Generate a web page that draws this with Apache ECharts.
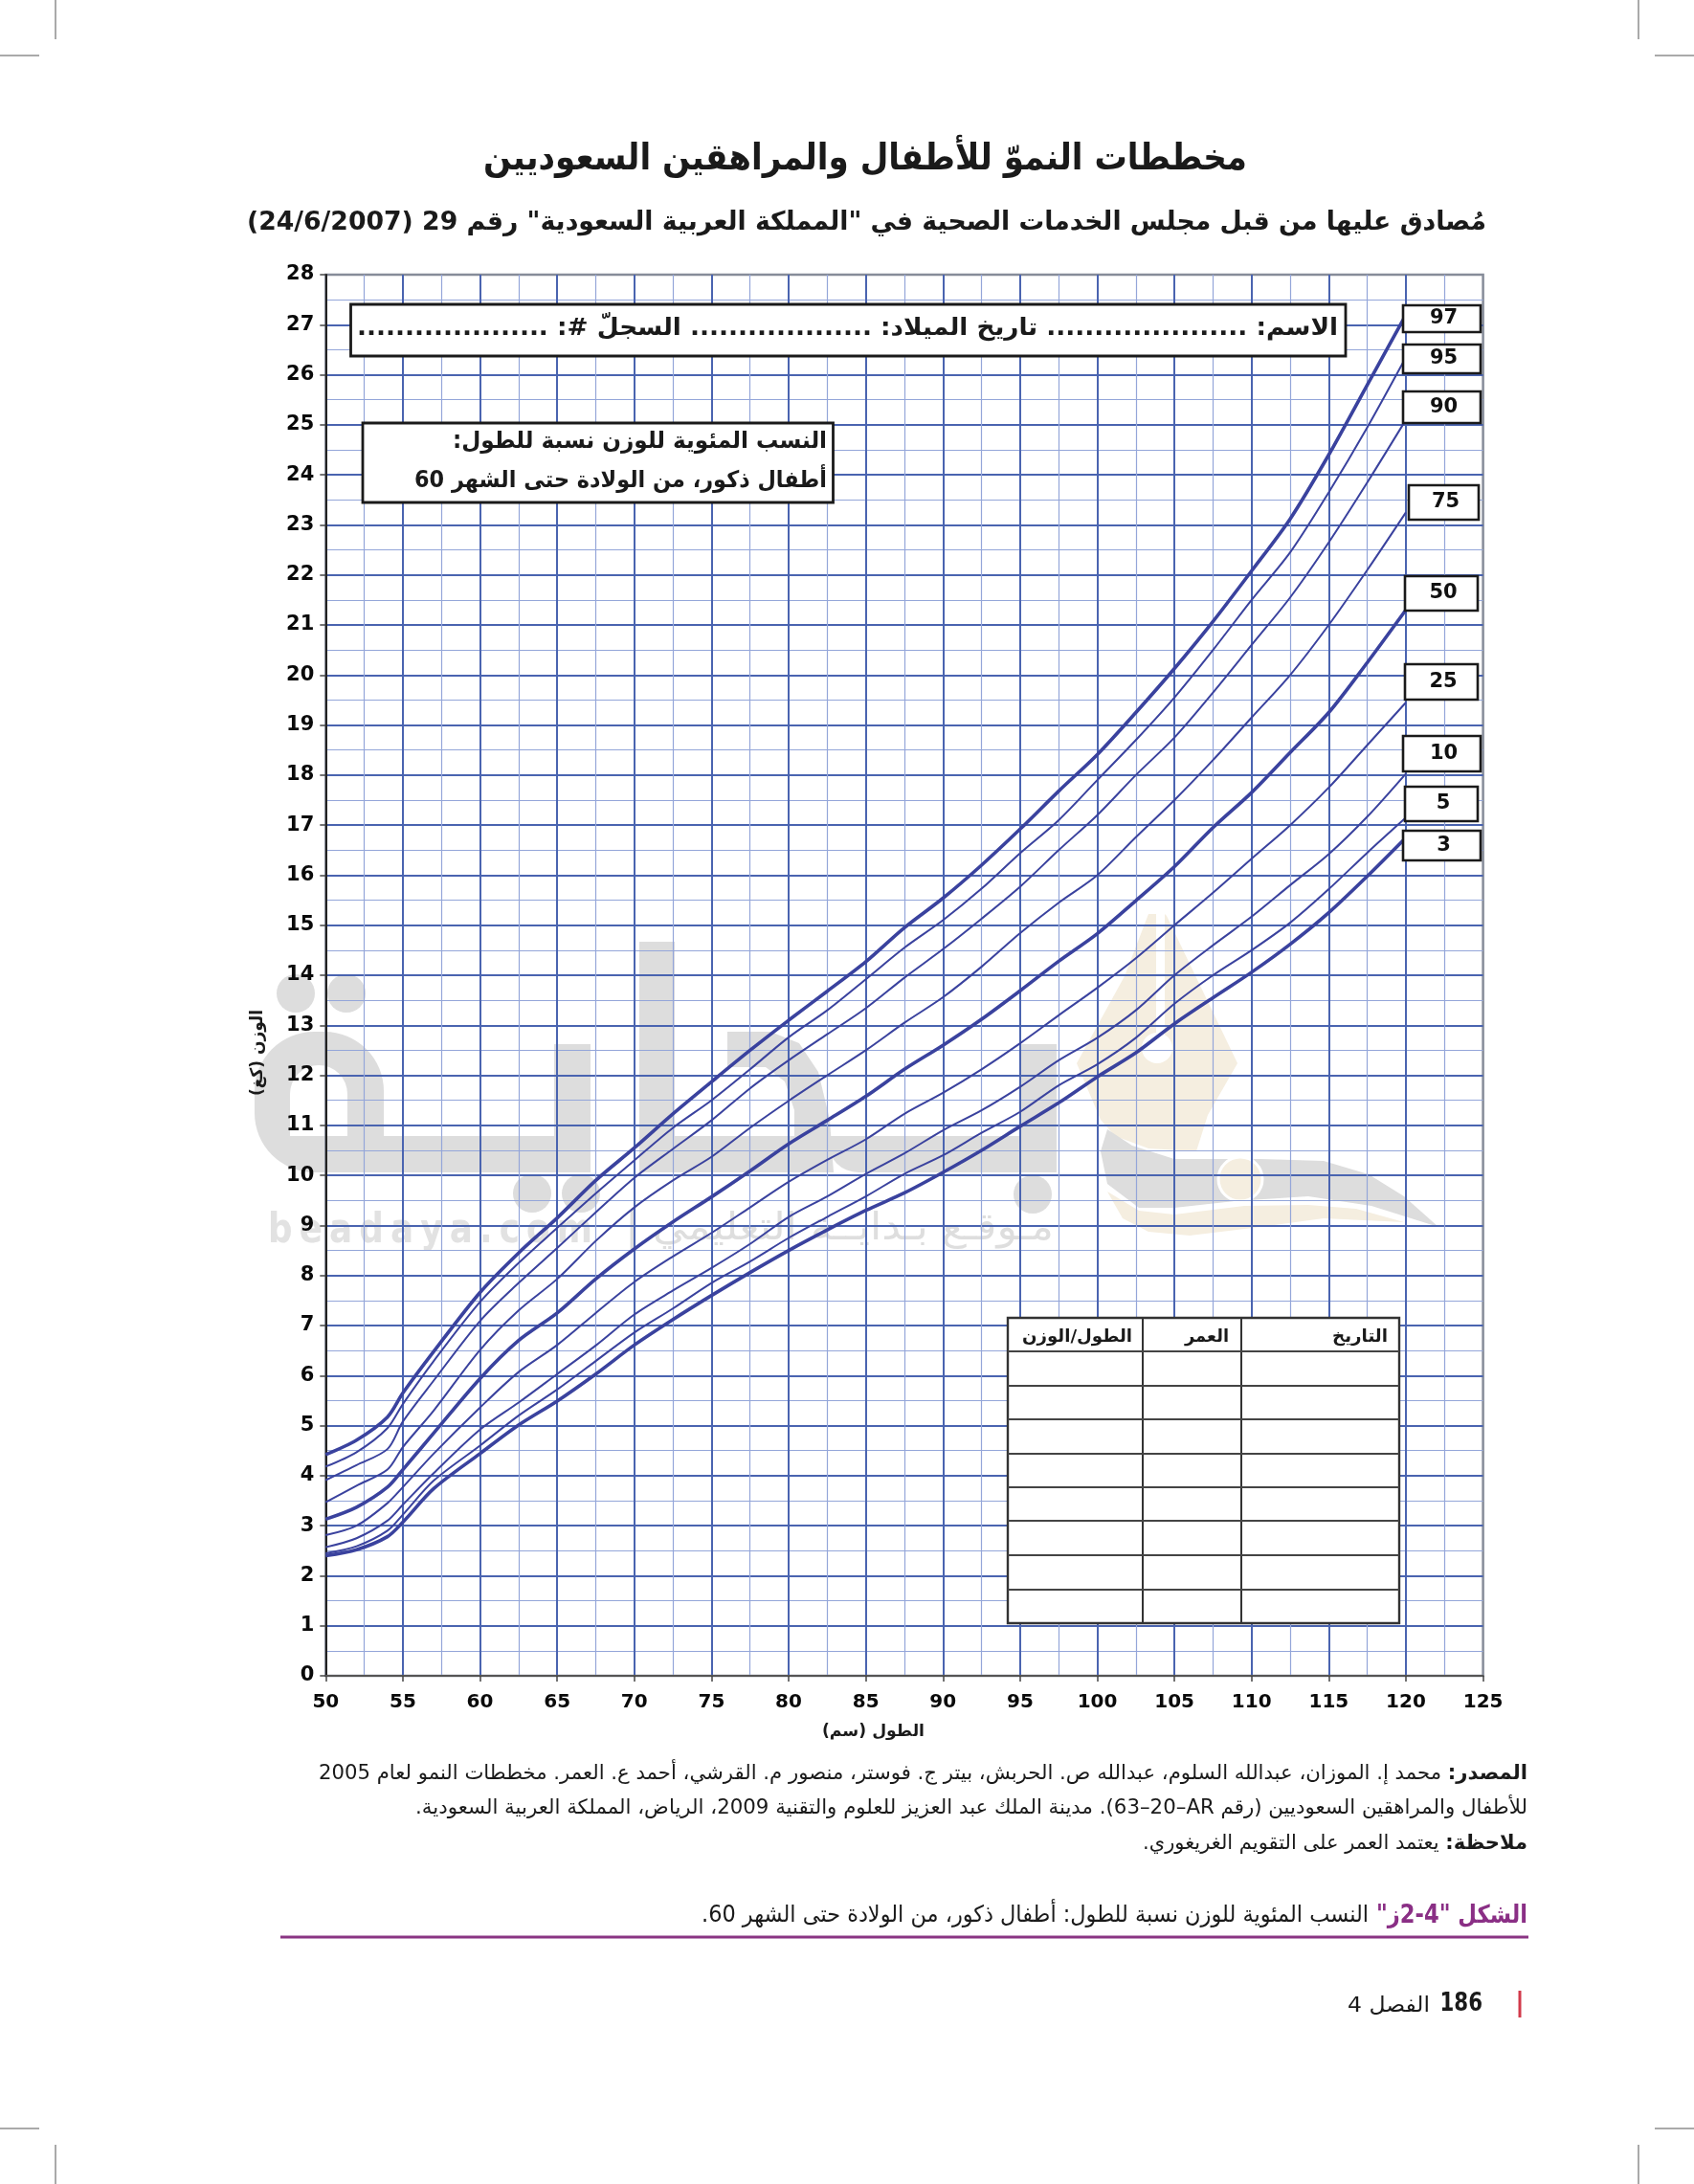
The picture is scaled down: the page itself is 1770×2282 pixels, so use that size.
<!DOCTYPE html>
<html lang="ar">
<head>
<meta charset="utf-8">
<style>
html,body{margin:0;padding:0;background:#fff}
#chart{width:1770px;height:2282px;direction:rtl}
</style>
<script src="https://cdn.jsdelivr.net/npm/echarts@6/dist/echarts.min.js"></script>
</head>
<body>
<div id="chart"></div>
<script>
// ---- data ----
const lengths = [50,52,54,55,57,60,62.5,65,67.5,70,72.5,75,77.5,80,82.5,85,87.5,90,92.5,95,97.5,100,102.5,105,107.5,110,112.5,115,117.5,120];
const p97 = [4.42,4.71,5.17,5.65,6.48,7.66,8.45,9.15,9.9,10.55,11.23,11.87,12.5,13.1,13.68,14.27,14.95,15.54,16.2,16.92,17.68,18.41,19.25,20.13,21.07,22.08,23.12,24.4,25.8,27.2];
const p95 = [4.18,4.47,4.95,5.43,6.29,7.47,8.25,8.95,9.64,10.3,10.95,11.5,12.12,12.76,13.3,13.92,14.55,15.1,15.73,16.44,17.1,17.9,18.7,19.55,20.5,21.5,22.45,23.65,24.95,26.35];
const p90 = [3.91,4.21,4.53,5.08,5.9,7.09,7.85,8.55,9.26,9.95,10.53,11.1,11.74,12.3,12.82,13.34,13.95,14.52,15.13,15.77,16.5,17.2,18.0,18.75,19.65,20.6,21.55,22.65,23.85,25.1];
const p75 = [3.47,3.8,4.12,4.57,5.3,6.51,7.3,7.93,8.69,9.36,9.9,10.37,10.95,11.49,12.0,12.5,13.05,13.56,14.17,14.84,15.45,16.0,16.76,17.5,18.3,19.15,20.0,21.0,22.1,23.25];
const p50 = [3.13,3.37,3.77,4.12,4.85,5.94,6.7,7.25,7.93,8.53,9.07,9.57,10.09,10.63,11.1,11.58,12.12,12.6,13.12,13.69,14.28,14.83,15.49,16.17,16.95,17.65,18.45,19.25,20.25,21.3];
const p25 = [2.81,3.0,3.45,3.77,4.44,5.36,6.07,6.61,7.25,7.87,8.38,8.85,9.36,9.87,10.31,10.72,11.23,11.65,12.12,12.64,13.2,13.75,14.34,15.0,15.65,16.33,17.0,17.75,18.6,19.45];
const p10 = [2.57,2.75,3.1,3.42,4.05,4.92,5.46,6.03,6.6,7.22,7.7,8.15,8.63,9.17,9.58,10.03,10.44,10.9,11.3,11.77,12.3,12.75,13.3,14.0,14.6,15.17,15.8,16.42,17.17,18.03];
const p5  = [2.45,2.59,2.9,3.22,3.9,4.6,5.2,5.72,6.29,6.86,7.34,7.85,8.28,8.75,9.17,9.58,10.03,10.4,10.85,11.27,11.8,12.22,12.75,13.43,14.0,14.5,15.05,15.72,16.45,17.15];
const p3  = [2.40,2.52,2.78,3.07,3.74,4.44,5.01,5.49,6.03,6.61,7.12,7.6,8.06,8.5,8.91,9.3,9.65,10.06,10.5,10.98,11.45,11.97,12.45,13.03,13.55,14.06,14.62,15.25,15.98,16.75];
const curveNames = ['97','95','90','75','50','25','10','5','3'];
const curveValues = [p97,p95,p90,p75,p50,p25,p10,p5,p3];
const thickCurves = ['97','50','3'];

const titleText = 'مخططات النموّ للأطفال والمراهقين السعوديين';
const subtitleText = 'مُصادق عليها من قبل مجلس الخدمات الصحية في "المملكة العربية السعودية" رقم 29 (24/6/2007)';
const nameLine = 'الاسم: ..................... تاريخ الميلاد: ................... السجلّ #: ....................';
const boxLine1 = 'النسب المئوية للوزن نسبة للطول:';
const boxLine2 = 'أطفال ذكور، من الولادة حتى الشهر 60';
const xName = 'الطول (سم)';
const yName = 'الوزن (كغ)';
const tableHead = ['التاريخ','العمر','الطول/الوزن'];
const srcBold = 'المصدر:';
const src1 = ' محمد إ. الموزان، عبدالله السلوم، عبدالله ص. الحربش، بيتر ج. فوستر، منصور م. القرشي، أحمد ع. العمر. مخططات النمو لعام 2005';
const src2 = 'للأطفال والمراهقين السعوديين (رقم AR\u200f–20\u200f–63). مدينة الملك عبد العزيز للعلوم والتقنية 2009، الرياض، المملكة العربية السعودية.';
const noteBold = 'ملاحظة:';
const note = ' يعتمد العمر على التقويم الغريغوري.';
const capBold = 'الشكل "4-2ز"';
const cap = 'النسب المئوية للوزن نسبة للطول: أطفال ذكور، من الولادة حتى الشهر 60.';

// ---- layout and style ----
const AR = '"DejaVu Sans"';
const G = {left:340.3,right:1549.6,top:287,bottom:1751};
const LINE = '#3a429e', MAJOR = '#4a64b0', MINOR = '#94a6d9';
const WM = '#dddddd', PEN = '#f5eee0';

const chart = echarts.init(document.getElementById('chart'), null, {renderer:'canvas'});
const mctx = document.createElement('canvas').getContext('2d');
document.body.appendChild(mctx.canvas); mctx.canvas.style.cssText='position:absolute;left:-9999px;direction:rtl';
function measure(t,font){mctx.font=font;return mctx.measureText(t).width;}

const g = [];
// right-to-left text line, fitted to a target width; segments = [{t,size,bold,color}]
function line(right,y,width,segs,z){
  const fonts = segs.map(s=>`${s.bold?'bold ':''}${s.size}px ${s.font||AR}`);
  const w = segs.map((s,i)=>measure(s.t,fonts[i]));
  const total = w.reduce((a,b)=>a+b,0);
  const sc = width/total;
  let x = right;
  segs.forEach((s,i)=>{
    g.push({type:'text',x:x,y:y,scaleX:sc,z:z==null?20:z,silent:true,
      style:{text:s.t,font:fonts[i],fill:s.color||'#1a1a1a',align:'right',verticalAlign:'middle'}});
    x -= w[i]*sc;
  });
}
function rect(x,y,w,h,fill,stroke,lw,z,r){
  g.push({type:'rect',z:z,silent:true,shape:{x,y,width:w,height:h,r:r||0},style:{fill:fill||'none',stroke:stroke||'none',lineWidth:lw||0}});
}
function seg(x1,y1,x2,y2,color,lw,z){
  g.push({type:'line',z:z,silent:true,shape:{x1,y1,x2,y2},style:{stroke:color,lineWidth:lw}});
}
function poly(points,fill,z){g.push({type:'polygon',z:z,silent:true,shape:{points},style:{fill}});}
function dot(cx,cy,r,fill,z,stroke,lw){g.push({type:'circle',z:z,silent:true,shape:{cx,cy,r},style:{fill,stroke:stroke||'none',lineWidth:lw||0}});}

// crop marks
[[58,0,58,41],[0,58,41,58],[1712,0,1712,41],[1729,58,1770,58],[58,2241,58,2282],[0,2224,41,2224],[1712,2241,1712,2282],[1729,2224,1770,2224]]
  .forEach(a=>seg(a[0],a[1],a[2],a[3],'#555',1,1));

// watermark (under the grid)
const zw=-10;
rect(266,1078,135,147,WM,null,0,zw,[62,62,0,62]);
rect(303,1113,60,74,'#fff',null,0,zw+1,[30,30,0,0]);
rect(330,1187,287,38,WM,null,0,zw);
rect(579,1091,38,134,WM,null,0,zw);
rect(668,984,37,241,WM,null,0,zw);
rect(668,1187,170,38,WM,null,0,zw);
poly([[760,1078],[805,1078],[835,1090],[855,1120],[867,1170],[871,1225],[815,1225],[815,1187],[830,1187],[830,1160],[820,1130],[800,1115],[760,1115]],WM,zw);
rect(865,1187,239,38,WM,null,0,zw,[0,0,0,32]);
rect(1067,1091,37,134,WM,null,0,zw);
dot(309,1038,20,WM,zw);dot(362,1038,20,WM,zw);dot(556,1247,20,WM,zw);dot(607,1247,20,WM,zw);dot(1079,1248,20,WM,zw);
line(619,1287,339,[{t:'b\u2009e\u2009a\u2009d\u2009a\u2009y\u2009a\u2009.\u2009c\u2009o\u2009m',size:42,bold:true,color:'#e2e2e2'}],zw);
line(1101,1285,448,[{t:'مـوقـع بـدايــة التعليمي |',size:40,color:'#dedede'}],zw);
// pen and swoosh
poly([[1200,955],[1208,955],[1208,1085],[1217,1085],[1217,955],[1219,957],[1293,1111],[1262,1165],[1250,1203],[1200,1200],[1165,1187],[1150,1170],[1125,1111],[1175,1020]],PEN,zw);
dot(1209,1095,16,'#fff',zw+1);
poly([[1157,1180],[1150,1203],[1157,1237],[1190,1262],[1227,1262],[1290,1255],[1367,1250],[1433,1260],[1503,1282],[1467,1250],[1430,1227],[1383,1213],[1317,1211],[1227,1211],[1183,1197]],WM,zw);
poly([[1157,1245],[1173,1273],[1200,1287],[1243,1291],[1317,1282],[1383,1273],[1467,1277],[1417,1263],[1367,1259],[1300,1260],[1227,1269],[1190,1265]],PEN,zw);
dot(1296,1232,23,PEN,zw+1,'#fff',3);

// headings
line(1303,167,798,[{t:titleText,size:38,bold:true}]);
line(1553,233,1295,[{t:subtitleText,size:27,bold:true}]);

// name box
rect(366.5,318,1039.5,54,'#fff','#1a1a1a',2.8,15);
line(1398,343,1025,[{t:nameLine,size:25,bold:true}]);
// description box
rect(379,442,491.5,83,'#fff','#1a1a1a',2.8,15);
line(864,462,391,[{t:boxLine1,size:24,bold:true}]);
line(864,503,431,[{t:boxLine2,size:24,bold:true}]);

// percentile boxes
const pctBoxes = {'97':[1466,319,81,28],'95':[1466,360,81,30],'90':[1466,409,81,33],'75':[1472,507,73,36],'50':[1468,602,76,36],'25':[1468,694,76,37],'10':[1466,769,81,37],'5':[1468,822,76,36],'3':[1466,868,81,31]};
curveNames.forEach(n=>{
  const b=pctBoxes[n];
  rect(b[0],b[1],b[2],b[3],'#fff','#1a1a1a',2.6,15);
  g.push({type:'text',z:20,silent:true,x:b[0]+b[2]/2+2,y:b[1]+b[3]/2,style:{text:n,font:`bold 21px ${AR}`,fill:'#111',align:'center',verticalAlign:'middle'}});
});

// table
const T={l:1053,r:1462,t:1377,b:1696,cols:[1194,1297],rows:[1412,1448,1483,1519,1554,1589,1625,1661]};
rect(T.l,T.t,T.r-T.l,T.b-T.t,'#fff','#333',2.4,15);
T.cols.forEach(x=>seg(x,T.t,x,T.b,'#333',2,16));
T.rows.forEach(y=>seg(T.l,y,T.r,y,'#444',2.2,16));
line(1450,1397,58,[{t:tableHead[0],size:18,bold:true}]);
line(1284,1397,46,[{t:tableHead[1],size:18,bold:true}]);
line(1183,1397,115,[{t:tableHead[2],size:18,bold:true}]);

// axis names
line(966,1810,107,[{t:xName,size:17,bold:true}]);
g.push({type:'text',z:20,silent:true,x:269,y:1100,rotation:Math.PI/2,scaleY:1.05,style:{text:yName,font:`bold 17px ${AR}`,fill:'#1a1a1a',align:'center',verticalAlign:'middle'}});

// footer
line(1596,1854,1263,[{t:srcBold,size:21,bold:true},{t:src1,size:21}]);
line(1596,1890,1162,[{t:src2,size:21}]);
line(1596,1927,402,[{t:noteBold,size:21,bold:true},{t:note,size:21}]);
line(1596,2002,158,[{t:capBold,size:26,bold:true,color:'#8a2f85'}]);
line(1430,2002,697,[{t:cap,size:24}]);
seg(293,2024,1597,2024,'#8a3583',3,5);
seg(1588,2080,1588,2108,'#d23a4a',3,5);
g.push({type:'text',z:20,silent:true,x:1549,y:2094,scaleX:0.82,style:{text:'186',font:`bold 26px ${AR}`,fill:'#1a1a1a',align:'right',verticalAlign:'middle'}});
line(1494,2096,86,[{t:'الفصل 4',size:22}]);

const series = curveNames.map((n,i)=>({
  name:n,type:'line',smooth:0.3,symbol:'none',z:5,
  data:lengths.map((x,k)=>[x,curveValues[i][k]]),
  lineStyle:{color:LINE,width:thickCurves.includes(n)?3.6:2},
  silent:true
}));

chart.setOption({
  animation:false,
  backgroundColor:'#fff',
  textStyle:{fontFamily:AR},
  grid:{left:G.left,top:G.top,width:G.right-G.left,height:G.bottom-G.top,show:true,borderColor:'#868c99',borderWidth:2.5,containLabel:false},
  xAxis:{type:'value',min:50,max:125,interval:5,
    axisLine:{show:true,onZero:false,lineStyle:{color:'#555',width:2}},
    axisTick:{show:true,length:6,lineStyle:{color:'#444',width:1.5}},
    axisLabel:{color:'#0a0a0a',fontWeight:'bold',fontSize:20,fontFamily:AR,margin:18},
    splitLine:{show:true,showMinLine:false,showMaxLine:false,lineStyle:{color:MAJOR,width:2}},
    minorTick:{show:false,splitNumber:2},
    minorSplitLine:{show:true,lineStyle:{color:MINOR,width:1.2}}},
  yAxis:{type:'value',min:0,max:28,interval:1,
    axisLine:{show:true,onZero:false,lineStyle:{color:'#222',width:2}},
    axisTick:{show:true,length:6,lineStyle:{color:'#444',width:1.5}},
    axisLabel:{color:'#0a0a0a',fontWeight:'bold',fontSize:21,fontFamily:AR,margin:12,padding:[4,0,0,0]},
    splitLine:{show:true,showMinLine:false,showMaxLine:false,lineStyle:{color:MAJOR,width:2}},
    minorTick:{show:false,splitNumber:2},
    minorSplitLine:{show:true,lineStyle:{color:MINOR,width:1.2}}},
  series:series,
  graphic:{elements:g}
});
</script>
</body>
</html>
